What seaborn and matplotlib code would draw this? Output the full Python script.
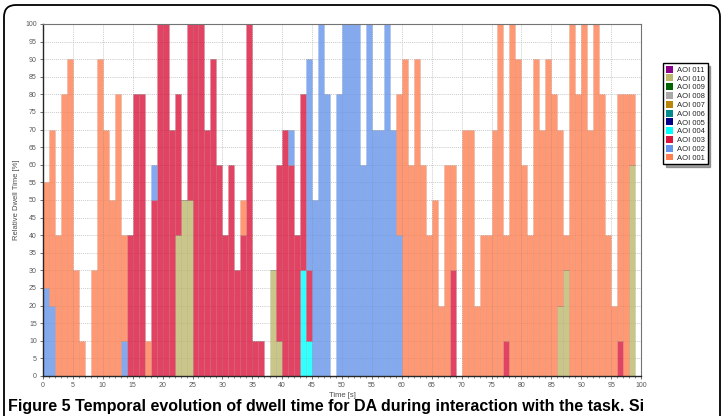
import matplotlib
matplotlib.use("Agg")
import matplotlib.pyplot as plt
from matplotlib.patches import Patch, FancyBboxPatch
from matplotlib.ticker import MultipleLocator
import seaborn as sns
import pandas as pd

# one value per 1 s bin, 0..99 s, relative dwell time in %
aoi_001 = [30, 50, 40, 80, 90, 30, 10, 0, 30, 90,
           70, 50, 80, 30, 0, 0, 0, 10, 0, 0,
           0, 0, 0, 0, 0, 0, 0, 0, 0, 0,
           0, 0, 0, 10, 0, 0, 0, 0, 0, 0,
           0, 0, 0, 0, 0, 0, 0, 0, 0, 0,
           0, 0, 0, 0, 0, 0, 0, 0, 0, 40,
           90, 60, 90, 60, 40, 50, 20, 60, 30, 0,
           70, 70, 20, 40, 40, 70, 100, 30, 100, 90,
           60, 40, 90, 70, 90, 80, 50, 10, 100, 80,
           100, 70, 100, 80, 40, 20, 70, 80, 20, 0]

aoi_002 = [25, 20, 0, 0, 0, 0, 0, 0, 0, 0,
           0, 0, 0, 10, 0, 0, 0, 0, 10, 0,
           0, 0, 0, 0, 0, 0, 0, 0, 0, 0,
           0, 0, 0, 0, 0, 0, 0, 0, 0, 0,
           0, 10, 0, 0, 60, 50, 100, 80, 0, 80,
           100, 100, 100, 60, 100, 70, 70, 100, 70, 40,
           0, 0, 0, 0, 0, 0, 0, 0, 0, 0,
           0, 0, 0, 0, 0, 0, 0, 0, 0, 0,
           0, 0, 0, 0, 0, 0, 0, 0, 0, 0,
           0, 0, 0, 0, 0, 0, 0, 0, 0, 0]

aoi_003 = [0, 0, 0, 0, 0, 0, 0, 0, 0, 0,
           0, 0, 0, 0, 40, 80, 80, 0, 50, 100,
           100, 70, 40, 0, 50, 100, 100, 70, 90, 60,
           40, 60, 30, 40, 100, 10, 10, 0, 0, 50,
           70, 60, 40, 50, 20, 0, 0, 0, 0, 0,
           0, 0, 0, 0, 0, 0, 0, 0, 0, 0,
           0, 0, 0, 0, 0, 0, 0, 0, 30, 0,
           0, 0, 0, 0, 0, 0, 0, 10, 0, 0,
           0, 0, 0, 0, 0, 0, 0, 0, 0, 0,
           0, 0, 0, 0, 0, 0, 10, 0, 0, 0]

aoi_004 = [0] * 43 + [30, 10] + [0] * 55

aoi_010 = [0, 0, 0, 0, 0, 0, 0, 0, 0, 0,
           0, 0, 0, 0, 0, 0, 0, 0, 0, 0,
           0, 0, 40, 50, 50, 0, 0, 0, 0, 0,
           0, 0, 0, 0, 0, 0, 0, 0, 30, 10,
           0, 0, 0, 0, 0, 0, 0, 0, 0, 0,
           0, 0, 0, 0, 0, 0, 0, 0, 0, 0,
           0, 0, 0, 0, 0, 0, 0, 0, 0, 0,
           0, 0, 0, 0, 0, 0, 0, 0, 0, 0,
           0, 0, 0, 0, 0, 0, 20, 30, 0, 0,
           0, 0, 0, 0, 0, 0, 0, 0, 60, 0]

legend_labels = ['AOI 011', 'AOI 010', 'AOI 009', 'AOI 008', 'AOI 007', 'AOI 006',
                 'AOI 005', 'AOI 004', 'AOI 003', 'AOI 002', 'AOI 001']
legend_colors = ['darkmagenta', 'darkkhaki', 'darkgreen', 'darkgray', 'darkgoldenrod', 'darkcyan',
                 'darkblue', 'cyan', 'crimson', 'cornflowerblue', 'coral']
aoi_colors = dict(zip(legend_labels, legend_colors))

series = {'AOI 001': aoi_001, 'AOI 002': aoi_002, 'AOI 003': aoi_003,
          'AOI 004': aoi_004, 'AOI 010': aoi_010}

rows = []
for name, values in series.items():
    for sec, v in enumerate(values):
        if v > 0:
            rows.append({'time': sec + 0.5, 'aoi': name, 'dwell': v})
df = pd.DataFrame(rows)

sns.set_style('white')
plt.rcParams['font.family'] = ['Liberation Sans', 'DejaVu Sans']

fig = plt.figure(figsize=(7.23, 4.16), dpi=100)
ax = fig.add_axes([43 / 723, 1 - 376 / 416, 598 / 723, 352 / 416])

order = list(series.keys())
sns.histplot(data=df, x='time', weights='dwell', hue='aoi', hue_order=order,
             palette=[aoi_colors[a] for a in order], multiple='stack',
             binwidth=1, binrange=(0, 100), alpha=0.8,
             edgecolor=(0.3, 0.3, 0.3, 0.12), linewidth=0.5, legend=False, ax=ax)

ax.set_xlim(0, 100)
ax.set_ylim(0, 100)
ax.xaxis.set_major_locator(MultipleLocator(5))
ax.xaxis.set_minor_locator(MultipleLocator(1))
ax.yaxis.set_major_locator(MultipleLocator(5))
ax.tick_params(axis='both', which='major', labelsize=5, length=2.5, width=0.6,
               color='0.35', labelcolor='0.35', pad=2, bottom=True, left=True)
ax.tick_params(axis='x', which='minor', length=1.5, width=0.5, color='0.35', bottom=True)
ax.grid(True, which='major', color='0.72', linestyle=(0, (1.5, 1.5)), linewidth=0.5)
ax.set_axisbelow(True)
for side in ['left', 'bottom']:
    ax.spines[side].set_color('0.15')
    ax.spines[side].set_linewidth(1.0)
for side in ['top', 'right']:
    ax.spines[side].set_color('0.45')
    ax.spines[side].set_linewidth(0.8)

ax.set_xlabel('Time [s]', fontsize=5.5, color='0.3', labelpad=2)
ax.set_ylabel('Relative Dwell Time [%]', fontsize=5.5, color='0.3', labelpad=4)

handles = [Patch(facecolor=c, edgecolor='none') for c in legend_colors]
fig.legend(handles, legend_labels, loc='upper left', bbox_to_anchor=(663 / 723, 1 - 63 / 416),
           fontsize=5.5, frameon=True, fancybox=False, shadow=True, edgecolor='black',
           handlelength=1.0, handleheight=1.0, handletextpad=0.5, labelspacing=0.1,
           borderpad=0.35, borderaxespad=0)

frame = FancyBboxPatch((0.04, -0.5), 7.16, 4.61, boxstyle='round,pad=0,rounding_size=0.12',
                       transform=fig.dpi_scale_trans, fill=False, edgecolor='black', linewidth=1.3)
fig.add_artist(frame)

fig.text(8 / 723, 1 - 399 / 416,
         'Figure 5 Temporal evolution of dwell time for DA during interaction with the task. Si',
         fontsize=11.5, fontweight='bold', va='top', ha='left', color='black')

fig.savefig('out.png', dpi=100)
